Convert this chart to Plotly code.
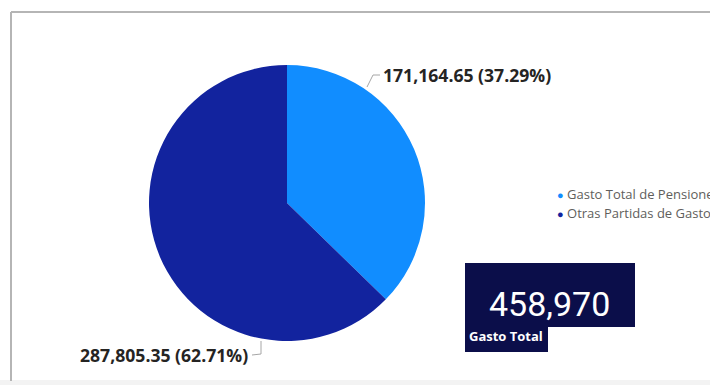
import plotly.graph_objects as go

# Data
categories = ["Gasto Total de Pensiones", "Otras Partidas de Gasto"]
values = [171164.65, 287805.35]
colors = ["#118DFF", "#12239E"]

W, H = 710, 385
total = sum(values)


def px(x):
    return x / W


def py(y):
    return 1 - y / H


fig = go.Figure()

fig.add_trace(go.Pie(
    labels=categories,
    values=values,
    sort=False,
    direction="clockwise",
    rotation=0,
    marker=dict(colors=colors, line=dict(width=0)),
    textinfo="none",
    hoverinfo="label+value+percent",
    showlegend=False,
    domain=dict(x=[px(149), px(425)], y=[py(341), py(65)]),
))


def fmt_label(v):
    return f"{v:,.2f} ({v / total * 100:.2f}%)"


label_font = dict(family="Open Sans", size=17.6, color="#252423")
annotations = [
    dict(x=px(381), y=py(75), xref="paper", yref="paper", xanchor="left", yanchor="middle",
         text=f"<b>{fmt_label(values[0])}</b>", showarrow=False, font=label_font),
    dict(x=px(250), y=py(355), xref="paper", yref="paper", xanchor="right", yanchor="middle",
         text=f"<b>{fmt_label(values[1])}</b>", showarrow=False, font=label_font),
]

# Legend entries drawn as coloured dots with text
legend_font = dict(family="Open Sans", size=13, color="#605E5C")
for i, (name, col) in enumerate(zip(categories, colors)):
    annotations.append(dict(
        x=px(555), y=py(194 + i * 19), xref="paper", yref="paper",
        xanchor="left", yanchor="middle", showarrow=False,
        text=f"<span style='color:{col};font-size:11px'>●</span> {name}", font=legend_font))

# KPI card
annotations.append(dict(
    x=px(549), y=py(304), xref="paper", yref="paper", xanchor="center", yanchor="middle",
    text=f"{total:,.0f}", showarrow=False,
    font=dict(family="Roboto", size=34, color="white")))
annotations.append(dict(
    x=px(467), y=py(336), xref="paper", yref="paper", xanchor="left", yanchor="middle",
    text="<b>Gasto Total</b>", showarrow=False,
    font=dict(family="Open Sans", size=13, color="white")))

card_color = "#0B0E4A"
line_gray = "#A6A6A6"
shapes = [
    # frame
    dict(type="line", xref="paper", yref="paper", x0=px(11), y0=py(12), x1=px(11), y1=py(381),
         line=dict(color="#B5B5B5", width=2)),
    dict(type="line", xref="paper", yref="paper", x0=px(11), y0=py(12), x1=1, y1=py(12),
         line=dict(color="#B5B5B5", width=2)),
    dict(type="rect", xref="paper", yref="paper", x0=0, y0=0, x1=1, y1=py(380),
         fillcolor="#F3F3F3", line=dict(width=0), layer="below"),
    # KPI boxes
    dict(type="rect", xref="paper", yref="paper", x0=px(465), y0=py(327), x1=px(635), y1=py(263),
         fillcolor=card_color, line=dict(width=0)),
    dict(type="rect", xref="paper", yref="paper", x0=px(465), y0=py(352), x1=px(548), y1=py(326),
         fillcolor=card_color, line=dict(width=0)),
    # leader lines
    dict(type="path", xref="paper", yref="paper",
         path=f"M {px(367)},{py(87)} L {px(373)},{py(75)} L {px(380)},{py(75)}",
         line=dict(color=line_gray, width=1)),
    dict(type="path", xref="paper", yref="paper",
         path=f"M {px(261)},{py(341)} L {px(261)},{py(354)} L {px(252)},{py(355)}",
         line=dict(color=line_gray, width=1)),
]

fig.update_layout(
    width=W, height=H,
    margin=dict(l=0, r=0, t=0, b=0),
    paper_bgcolor="white",
    plot_bgcolor="white",
    annotations=annotations,
    shapes=shapes,
)

fig.write_html("out.html")
